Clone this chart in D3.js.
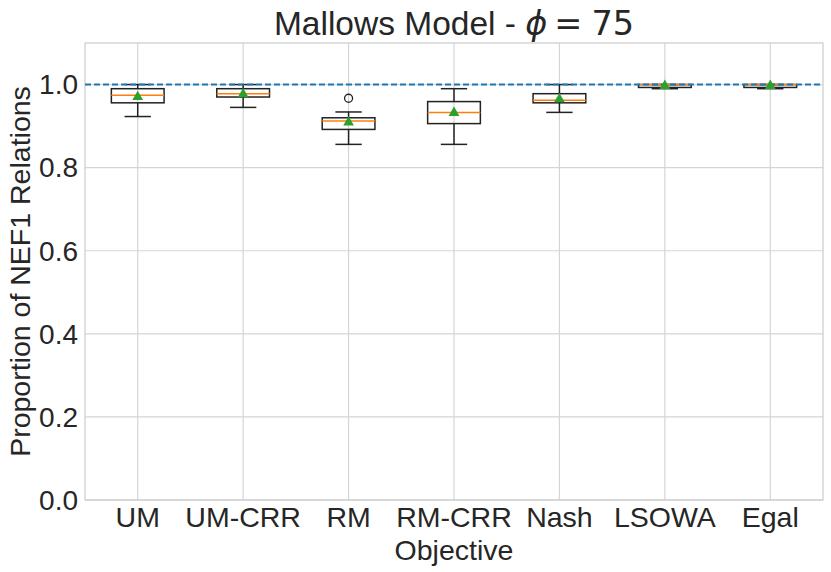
<!DOCTYPE html>
<html>
<head>
<meta charset="utf-8">
<script src="https://cdn.jsdelivr.net/npm/d3@7"></script>
<style>
  body { margin: 0; background: white; }
  text { font-family: "Liberation Sans", Arial, sans-serif; fill: #262626; }
</style>
</head>
<body>
<div id="chart"></div>
<script>
// data
var categories = ["UM", "UM-CRR", "RM", "RM-CRR", "Nash", "LSOWA", "Egal"];
var whiskerLow = [0.923, 0.945, 0.856, 0.856, 0.933, 0.990, 0.990];
var q1         = [0.956, 0.970, 0.892, 0.906, 0.956, 0.993, 0.993];
var medians    = [0.974, 0.978, 0.912, 0.933, 0.962, 1.000, 1.000];
var q3         = [0.990, 0.990, 0.920, 0.959, 0.978, 1.000, 1.000];
var whiskerHigh= [1.000, 1.000, 0.934, 0.990, 1.000, 1.000, 1.000];
var means      = [0.970, 0.977, 0.909, 0.932, 0.965, 0.997, 0.997];
var outliers   = [[], [], [0.967], [], [], [], []];
var yTicks = [0.0, 0.2, 0.4, 0.6, 0.8, 1.0];
var refLine = 1.0;

var width = 831, height = 572;
var margin = {top: 43, right: 8, bottom: 72, left: 85};

var svg = d3.select("#chart").append("svg")
    .attr("width", width)
    .attr("height", height);

var x = d3.scaleLinear()
    .domain([0.5, categories.length + 0.5])
    .range([margin.left, width - margin.right]);

var y = d3.scaleLinear()
    .domain([0, 1.1])
    .range([height - margin.bottom, margin.top]);

var boxW = x(1.25) - x(0.75);
var capW = boxW / 2;

var data = categories.map((c, i) => ({
    name: c, pos: i + 1,
    lo: whiskerLow[i], q1: q1[i], med: medians[i], q3: q3[i],
    hi: whiskerHigh[i], mean: means[i], out: outliers[i]
}));

// grid
svg.append("g")
    .selectAll("line")
    .data(yTicks)
    .enter().append("line")
    .attr("x1", x(0.5)).attr("x2", x(categories.length + 0.5))
    .attr("y1", d => y(d)).attr("y2", d => y(d))
    .attr("stroke", "#d5d5d5").attr("stroke-width", 1.2);

svg.append("g")
    .selectAll("line")
    .data(data)
    .enter().append("line")
    .attr("x1", d => x(d.pos)).attr("x2", d => x(d.pos))
    .attr("y1", y(0)).attr("y2", y(1.1))
    .attr("stroke", "#d5d5d5").attr("stroke-width", 1.2);

// spines
svg.append("rect")
    .attr("x", x(0.5)).attr("y", y(1.1))
    .attr("width", x(categories.length + 0.5) - x(0.5))
    .attr("height", y(0) - y(1.1))
    .attr("fill", "none")
    .attr("stroke", "#cccccc").attr("stroke-width", 1.2);

// boxes
var boxes = svg.append("g").selectAll("g")
    .data(data)
    .enter().append("g");

boxes.append("line")
    .attr("x1", d => x(d.pos)).attr("x2", d => x(d.pos))
    .attr("y1", d => y(d.lo)).attr("y2", d => y(d.q1))
    .attr("stroke", "#222").attr("stroke-width", 1.5);

boxes.append("line")
    .attr("x1", d => x(d.pos)).attr("x2", d => x(d.pos))
    .attr("y1", d => y(d.q3)).attr("y2", d => y(d.hi))
    .attr("stroke", "#222").attr("stroke-width", 1.5);

boxes.append("line")
    .attr("x1", d => x(d.pos) - capW / 2).attr("x2", d => x(d.pos) + capW / 2)
    .attr("y1", d => y(d.lo)).attr("y2", d => y(d.lo))
    .attr("stroke", "#222").attr("stroke-width", 1.5);

boxes.append("line")
    .attr("x1", d => x(d.pos) - capW / 2).attr("x2", d => x(d.pos) + capW / 2)
    .attr("y1", d => y(d.hi)).attr("y2", d => y(d.hi))
    .attr("stroke", "#222").attr("stroke-width", 1.5);

boxes.append("rect")
    .attr("x", d => x(d.pos) - boxW / 2)
    .attr("y", d => y(d.q3))
    .attr("width", boxW)
    .attr("height", d => y(d.q1) - y(d.q3))
    .attr("fill", "none")
    .attr("stroke", "#222").attr("stroke-width", 1.5);

boxes.append("line")
    .attr("x1", d => x(d.pos) - boxW / 2).attr("x2", d => x(d.pos) + boxW / 2)
    .attr("y1", d => y(d.med)).attr("y2", d => y(d.med))
    .attr("stroke", "#ff7f0e").attr("stroke-width", 1.5);

boxes.selectAll("circle")
    .data(d => d.out.map(v => ({pos: d.pos, v: v})))
    .enter().append("circle")
    .attr("cx", d => x(d.pos)).attr("cy", d => y(d.v))
    .attr("r", 4)
    .attr("fill", "none")
    .attr("stroke", "#222").attr("stroke-width", 1.3);

// reference line
svg.append("line")
    .attr("x1", x(0.5)).attr("x2", x(categories.length + 0.5))
    .attr("y1", y(refLine)).attr("y2", y(refLine))
    .attr("stroke", "#1f77b4").attr("stroke-width", 2)
    .attr("stroke-dasharray", "6,3");

// means
var tri = d3.symbol().type(d3.symbolTriangle).size(50);
svg.append("g").selectAll("path")
    .data(data)
    .enter().append("path")
    .attr("d", tri)
    .attr("transform", d => `translate(${x(d.pos)},${y(d.mean)})`)
    .attr("fill", "#2ca02c");

// tick labels
svg.append("g").selectAll("text")
    .data(yTicks)
    .enter().append("text")
    .attr("x", margin.left - 7)
    .attr("y", d => y(d))
    .attr("dy", "0.35em")
    .attr("text-anchor", "end")
    .attr("font-size", "28px")
    .text(d => d.toFixed(1));

svg.append("g").selectAll("text")
    .data(data)
    .enter().append("text")
    .attr("x", d => x(d.pos))
    .attr("y", y(0) + 27)
    .attr("text-anchor", "middle")
    .attr("font-size", "28.5px")
    .text(d => d.name);

// axis titles
svg.append("text")
    .attr("x", (x(0.5) + x(categories.length + 0.5)) / 2)
    .attr("y", 560)
    .attr("text-anchor", "middle")
    .attr("font-size", "28.5px")
    .text("Objective");

svg.append("text")
    .attr("transform", `translate(30,${(y(0) + y(1.1)) / 2}) rotate(-90)`)
    .attr("text-anchor", "middle")
    .attr("font-size", "28.5px")
    .text("Proportion of NEF1 Relations");

var title = svg.append("text")
    .attr("x", (x(0.5) + x(categories.length + 0.5)) / 2)
    .attr("y", 35)
    .attr("text-anchor", "middle")
    .attr("font-size", "33.5px");
title.append("tspan").text("Mallows Model - ");
title.append("tspan").attr("font-family", "DejaVu Sans").attr("font-style", "italic").text("ϕ");
title.append("tspan").attr("font-family", "DejaVu Sans").attr("dx", 7).text("=");
title.append("tspan").attr("font-family", "DejaVu Sans").attr("dx", 9).text("75");
</script>
</body>
</html>
